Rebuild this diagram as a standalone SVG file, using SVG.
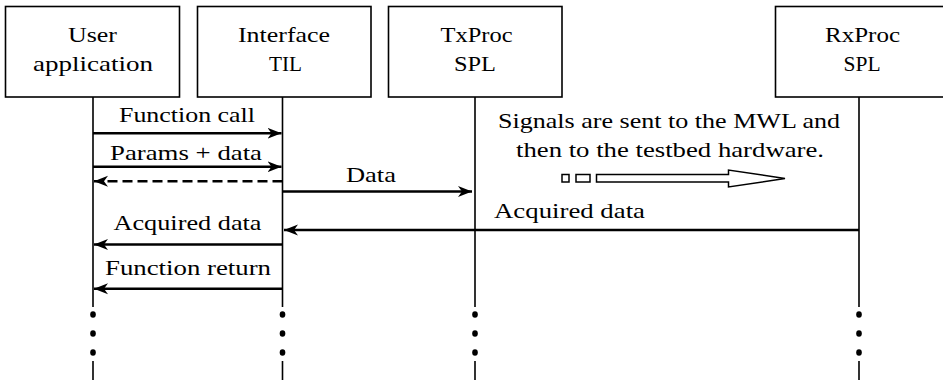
<svg xmlns="http://www.w3.org/2000/svg" width="943" height="380" viewBox="0 0 943 380">
<style>
.box{fill:#fff;stroke:#000;stroke-width:1.6}
.life{stroke:#000;stroke-width:1.6;fill:none}
.msg{stroke:#000;stroke-width:2.4;fill:none}
.dash{stroke-dasharray:10,5}
text{font-family:"Liberation Serif","Times New Roman",serif;font-size:21px;fill:#000;text-anchor:middle}
.dot{fill:#000}
.blk{fill:#fff;stroke:#000;stroke-width:1.5}
</style>
<defs>
<marker id="ah" markerUnits="userSpaceOnUse" viewBox="-14 -6 15 12" refX="0" refY="0" markerWidth="15" markerHeight="12" orient="auto">
<path d="M0,0 L-14,-5.5 L-10,0 L-14,5.5 Z" fill="#000"/>
</marker>
</defs>

<g id="node-user">
<rect class="box" x="5.5" y="6.5" width="174" height="90.5"/>
<text x="92.5" y="41.7" textLength="49" lengthAdjust="spacingAndGlyphs">User</text>
<text x="93" y="70.7" textLength="120" lengthAdjust="spacingAndGlyphs">application</text>
</g>
<g id="node-interface">
<rect class="box" x="197.5" y="6.5" width="173.5" height="90.5"/>
<text x="284" y="41.7" textLength="92" lengthAdjust="spacingAndGlyphs">Interface</text>
<text x="285.5" y="70.7" textLength="33" lengthAdjust="spacingAndGlyphs">TIL</text>
</g>
<g id="node-txproc">
<rect class="box" x="388.5" y="6.5" width="173.5" height="90.5"/>
<text x="476.5" y="41.7" textLength="72" lengthAdjust="spacingAndGlyphs">TxProc</text>
<text x="475" y="70.7" textLength="42" lengthAdjust="spacingAndGlyphs">SPL</text>
</g>
<g id="node-rxproc">
<rect class="box" x="775.5" y="6.5" width="174" height="90.5"/>
<text x="862.5" y="41.7" textLength="75" lengthAdjust="spacingAndGlyphs">RxProc</text>
<text x="862" y="70.7" textLength="37" lengthAdjust="spacingAndGlyphs">SPL</text>
</g>

<g id="lifelines">
<path class="life" d="M93,97 V307 M93,361 V380 M282.5,97 V307 M282.5,361 V380 M475,97 V307 M475,361 V380 M859,97 V307 M859,361 V380"/>
<ellipse class="dot" cx="93" cy="314.5" rx="2.8" ry="3.2"/>
<ellipse class="dot" cx="93" cy="333.5" rx="2.8" ry="3.2"/>
<ellipse class="dot" cx="93" cy="352.5" rx="2.8" ry="3.2"/>
<ellipse class="dot" cx="282.5" cy="314.5" rx="2.8" ry="3.2"/>
<ellipse class="dot" cx="282.5" cy="333.5" rx="2.8" ry="3.2"/>
<ellipse class="dot" cx="282.5" cy="352.5" rx="2.8" ry="3.2"/>
<ellipse class="dot" cx="475" cy="314.5" rx="2.8" ry="3.2"/>
<ellipse class="dot" cx="475" cy="333.5" rx="2.8" ry="3.2"/>
<ellipse class="dot" cx="475" cy="352.5" rx="2.8" ry="3.2"/>
<ellipse class="dot" cx="859" cy="314.5" rx="2.8" ry="3.2"/>
<ellipse class="dot" cx="859" cy="333.5" rx="2.8" ry="3.2"/>
<ellipse class="dot" cx="859" cy="352.5" rx="2.8" ry="3.2"/>
</g>

<g id="connectors">
<line class="msg" x1="93" y1="133.3" x2="281.5" y2="133.3" marker-end="url(#ah)"/>
<line class="msg" x1="93" y1="166.7" x2="281.5" y2="166.7" marker-end="url(#ah)"/>
<line class="msg dash" x1="282.5" y1="181.3" x2="94" y2="181.3" marker-end="url(#ah)"/>
<line class="msg" x1="282.5" y1="191.5" x2="472" y2="191.5" marker-end="url(#ah)"/>
<line class="msg" x1="859" y1="230" x2="284" y2="230" marker-end="url(#ah)"/>
<line class="msg" x1="282.5" y1="244.5" x2="94" y2="244.5" marker-end="url(#ah)"/>
<line class="msg" x1="282.5" y1="288.7" x2="94" y2="288.7" marker-end="url(#ah)"/>
</g>

<g id="labels">
<text x="187" y="121.7" textLength="136" lengthAdjust="spacingAndGlyphs">Function call</text>
<text x="186" y="160" textLength="152" lengthAdjust="spacingAndGlyphs">Params + data</text>
<text x="371" y="181.7" textLength="50" lengthAdjust="spacingAndGlyphs">Data</text>
<text x="569.5" y="218.3" textLength="151" lengthAdjust="spacingAndGlyphs">Acquired data</text>
<text x="187.5" y="229.5" textLength="148" lengthAdjust="spacingAndGlyphs">Acquired data</text>
<text x="188" y="274.5" textLength="166" lengthAdjust="spacingAndGlyphs">Function return</text>
<text x="669" y="128.3" textLength="342" lengthAdjust="spacingAndGlyphs">Signals are sent to the MWL and</text>
<text x="670" y="156.7" textLength="308" lengthAdjust="spacingAndGlyphs">then to the testbed hardware.</text>
</g>

<g id="block-arrow">
<rect class="blk" x="562" y="174.5" width="7" height="7.5"/>
<rect class="blk" x="576" y="174.5" width="14" height="7.5"/>
<path class="blk" d="M596.5,174.5 H728.5 V170 L785,178.5 L728.5,187 V182 H596.5 Z"/>
</g>
</svg>
